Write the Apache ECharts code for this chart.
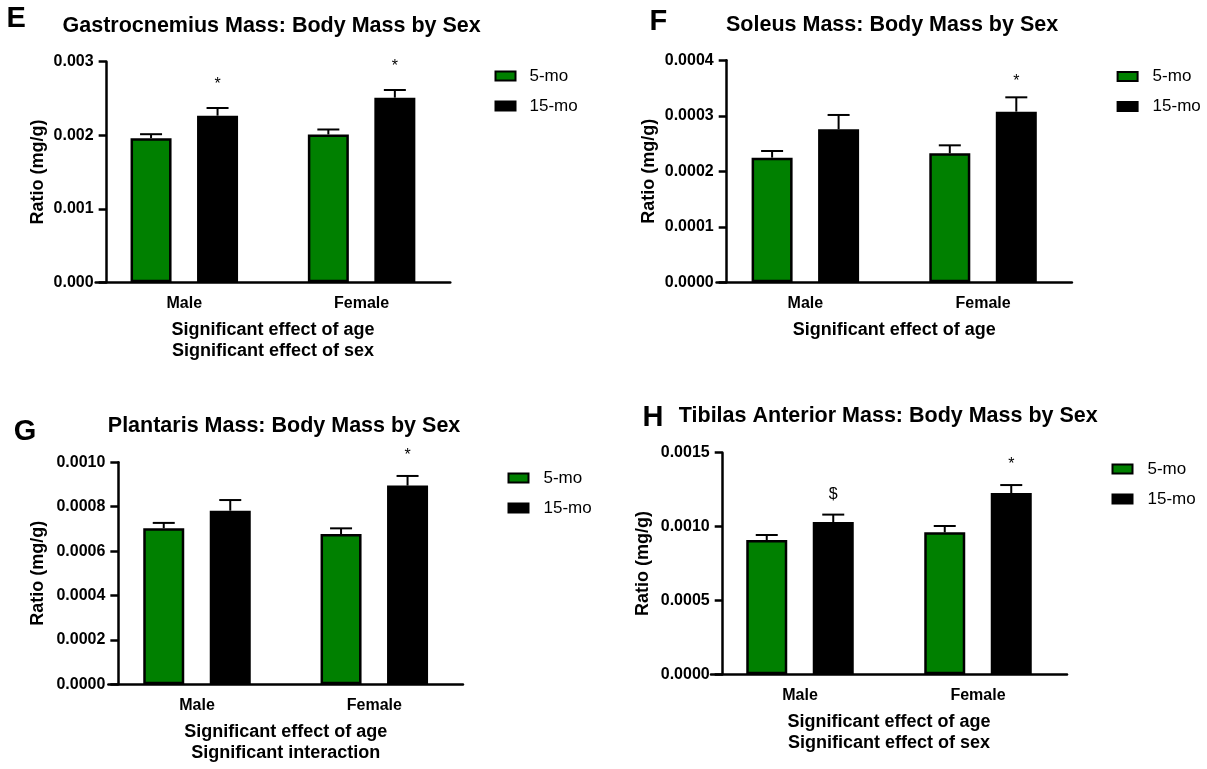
<!DOCTYPE html>
<html>
<head>
<meta charset="utf-8">
<script src="https://cdn.jsdelivr.net/npm/echarts@6/dist/echarts.min.js"></script>
<style>
  html, body { margin: 0; padding: 0; background: #fff; }
  #chart { width: 1207px; height: 769px; }
</style>
</head>
<body>
<div id="chart"></div>
<script>
// ---------- data ----------
const categories = ['Male', 'Female'];
const seriesNames = ['5-mo', '15-mo'];

// E: Gastrocnemius
const gastroTitle = 'Gastrocnemius Mass: Body Mass by Sex';
const gastro5 = [0.00196, 0.00201];
const gastro5Err = [0.000054, 0.000068];
const gastro15 = [0.002266, 0.002511];
const gastro15Err = [0.000104, 0.000104];
const gastroSig5 = ['', ''];
const gastroSig15 = ['*', '*'];
const gastroNotes = ['Significant effect of age', 'Significant effect of sex'];
const gastroYTicks = ['0.000', '0.001', '0.002', '0.003'];

// F: Soleus
const soleusTitle = 'Soleus Mass: Body Mass by Sex';
const soleus5 = [0.0002246, 0.0002324];
const soleus5Err = [0.000012, 0.0000144];
const soleus15 = [0.0002757, 0.0003075];
const soleus15Err = [0.0000258, 0.0000258];
const soleusSig5 = ['', ''];
const soleusSig15 = ['', '*'];
const soleusNotes = ['Significant effect of age'];
const soleusYTicks = ['0.0000', '0.0001', '0.0002', '0.0003', '0.0004'];

// G: Plantaris
const plantTitle = 'Plantaris Mass: Body Mass by Sex';
const plant5 = [0.000703, 0.000677];
const plant5Err = [0.000024, 0.0000255];
const plant15 = [0.000782, 0.000895];
const plant15Err = [0.000048, 0.0000435];
const plantSig5 = ['', ''];
const plantSig15 = ['', '*'];
const plantNotes = ['Significant effect of age', 'Significant interaction'];
const plantYTicks = ['0.0000', '0.0002', '0.0004', '0.0006', '0.0008', '0.0010'];

// H: Tibialis anterior
const taTitle = 'Tibilas Anterior Mass: Body Mass by Sex';
const ta5 = [0.000909, 0.000961];
const ta5Err = [0.000034, 0.000043];
const ta15 = [0.001031, 0.001227];
const ta15Err = [0.00005, 0.000054];
const taSig5 = ['', ''];
const taSig15 = ['$', '*'];
const taNotes = ['Significant effect of age', 'Significant effect of sex'];
const taYTicks = ['0.0000', '0.0005', '0.0010', '0.0015'];

// ---------- styling / layout ----------
const FONT = '"Liberation Sans", Arial, Helvetica, sans-serif';
const GREEN = '#008000';
const BAR_W = 41;
const BAR_GAP = 0.622;
const CAP = 22;

const panels = [
  { letter: 'E', title: gastroTitle, v5: gastro5, e5: gastro5Err, v15: gastro15, e15: gastro15Err, s5: gastroSig5, s15: gastroSig15, notes: gastroNotes, ticks: gastroYTicks,
    grid: { left: 95.65, top: 61.7, width: 354.6, height: 220.6 }, yOffset: -11, yNameGap: 60,
    letterPos: { left: 6.5, top: 4 }, titlePos: { left: 62.5, top: 15.2 }, legendPos: { left: 494.5, top: 67.5 }, legendPad: 9, sigGap: 23 },
  { letter: 'F', title: soleusTitle, v5: soleus5, e5: soleus5Err, v15: soleus15, e15: soleus15Err, s5: soleusSig5, s15: soleusSig15, notes: soleusNotes, ticks: soleusYTicks,
    grid: { left: 716.5, top: 60.3, width: 355.4, height: 222 }, yOffset: -10.2, yNameGap: 68.5,
    letterPos: { left: 649.6, top: 7 }, titlePos: { left: 726, top: 14 }, legendPos: { left: 1116.6, top: 68 }, legendPad: 10, sigGap: 16 },
  { letter: 'G', title: plantTitle, v5: plant5, e5: plant5Err, v15: plant15, e15: plant15Err, s5: plantSig5, s15: plantSig15, notes: plantNotes, ticks: plantYTicks,
    grid: { left: 108.35, top: 462.3, width: 354.6, height: 222 }, yOffset: -10, yNameGap: 71,
    letterPos: { left: 13.7, top: 417 }, titlePos: { left: 107.8, top: 415.7 }, legendPos: { left: 507.5, top: 469.5 }, legendPad: 10, sigGap: 20 },
  { letter: 'H', title: taTitle, v5: ta5, e5: ta5Err, v15: ta15, e15: ta15Err, s5: taSig5, s15: taSig15, notes: taNotes, ticks: taYTicks,
    grid: { left: 711, top: 452.7, width: 356, height: 221.6 }, yOffset: -11.7, yNameGap: 71,
    letterPos: { left: 642.6, top: 403.5 }, titlePos: { left: 678.8, top: 405.7 }, legendPos: { left: 1111.5, top: 460.5 }, legendPad: 10, sigGap: 20 }
];

function errRenderer(sign, means, errs, sigs, sigGap) {
  return function (params, api) {
    const i = api.value(0);
    const m = means[i], e = errs[i];
    const base = api.coord([i, m]);
    const top = api.coord([i, m + e]);
    const x = base[0] + sign * (BAR_W * (1 + BAR_GAP)) / 2;
    const children = [
      { type: 'line', shape: { x1: x, y1: base[1], x2: x, y2: top[1] }, style: { stroke: '#000', lineWidth: 2 } },
      { type: 'line', shape: { x1: x - CAP / 2, y1: top[1], x2: x + CAP / 2, y2: top[1] }, style: { stroke: '#000', lineWidth: 2 } }
    ];
    if (sigs[i]) {
      children.push({ type: 'text', x: x, y: top[1] - sigGap,
        style: { text: sigs[i], fill: '#000', font: '16px ' + FONT, align: 'center', verticalAlign: 'middle' } });
    }
    return { type: 'group', children: children };
  };
}

const option = { animation: false, backgroundColor: '#fff', grid: [], xAxis: [], yAxis: [], series: [], legend: [], title: [] };

panels.forEach(function (p, k) {
  const maxV = parseFloat(p.ticks[p.ticks.length - 1]);
  const step = parseFloat(p.ticks[1]) - parseFloat(p.ticks[0]);
  option.grid.push(Object.assign({ containLabel: false }, p.grid));
  option.xAxis.push({
    type: 'category', gridIndex: k, data: categories,
    axisLine: { lineStyle: { color: '#000', width: 2.5 } },
    axisTick: { alignWithLabel: true, length: 8, lineStyle: { color: '#000', width: 2.5 } },
    axisLabel: { color: '#000', fontFamily: FONT, fontWeight: 'bold', fontSize: 16, margin: 13 },
    name: p.notes.join('\n'), nameLocation: 'middle', nameGap: 37,
    nameTextStyle: { color: '#000', fontFamily: FONT, fontWeight: 'bold', fontSize: 18, lineHeight: 21 }
  });
  option.yAxis.push({
    type: 'value', gridIndex: k, min: 0, max: maxV, interval: step, offset: p.yOffset,
    axisLine: { show: true, lineStyle: { color: '#000', width: 2.5 } },
    axisTick: { show: true, length: 8, lineStyle: { color: '#000', width: 2.5 } },
    splitLine: { show: false },
    axisLabel: { color: '#000', fontFamily: FONT, fontWeight: 'bold', fontSize: 16, margin: 13,
      formatter: function (v, idx) { return p.ticks[idx] !== undefined ? p.ticks[idx] : ''; } },
    name: 'Ratio (mg/g)', nameLocation: 'middle', nameGap: p.yNameGap,
    nameTextStyle: { color: '#000', fontFamily: FONT, fontWeight: 'bold', fontSize: 18 }
  });
  const barCommon = { type: 'bar', xAxisIndex: k, yAxisIndex: k, barWidth: BAR_W, barGap: (BAR_GAP * 100) + '%', z: 2 };
  option.series.push(Object.assign({}, barCommon, { name: seriesNames[0], data: p.v5,
    itemStyle: { color: GREEN, borderColor: '#000', borderWidth: 2.5 } }));
  option.series.push(Object.assign({}, barCommon, { name: seriesNames[1], data: p.v15,
    itemStyle: { color: '#000', borderColor: '#000', borderWidth: 2.5 } }));
  [[-1, p.v5, p.e5, p.s5], [1, p.v15, p.e15, p.s15]].forEach(function (d) {
    option.series.push({
      type: 'custom', xAxisIndex: k, yAxisIndex: k, z: 5, clip: false, silent: true,
      renderItem: errRenderer(d[0], d[1], d[2], d[3], p.sigGap),
      encode: { x: 0, y: 1 },
      data: categories.map(function (c, i) { return [i, d[1][i] + d[2][i]]; })
    });
  });
  option.legend.push({
    data: seriesNames, orient: 'vertical', left: p.legendPos.left, top: p.legendPos.top,
    padding: 0, itemGap: 13, icon: 'rect', itemWidth: 20, itemHeight: 9,
    itemStyle: { borderColor: '#000', borderWidth: 2 },
    textStyle: { color: '#000', fontFamily: FONT, fontSize: 17, lineHeight: 17, padding: [0, 0, 0, p.legendPad] },
    selectedMode: false
  });
  option.title.push({ text: p.letter, left: p.letterPos.left, top: p.letterPos.top, padding: 0,
    textStyle: { color: '#000', fontFamily: FONT, fontWeight: 'bold', fontSize: 29, lineHeight: 29 } });
  option.title.push({ text: p.title, left: p.titlePos.left, top: p.titlePos.top, padding: 0,
    textStyle: { color: '#000', fontFamily: FONT, fontWeight: 'bold', fontSize: 21.5, lineHeight: 21.5 } });
});

const chart = echarts.init(document.getElementById('chart'), null, { renderer: 'canvas' });
chart.setOption(option);
</script>
</body>
</html>
